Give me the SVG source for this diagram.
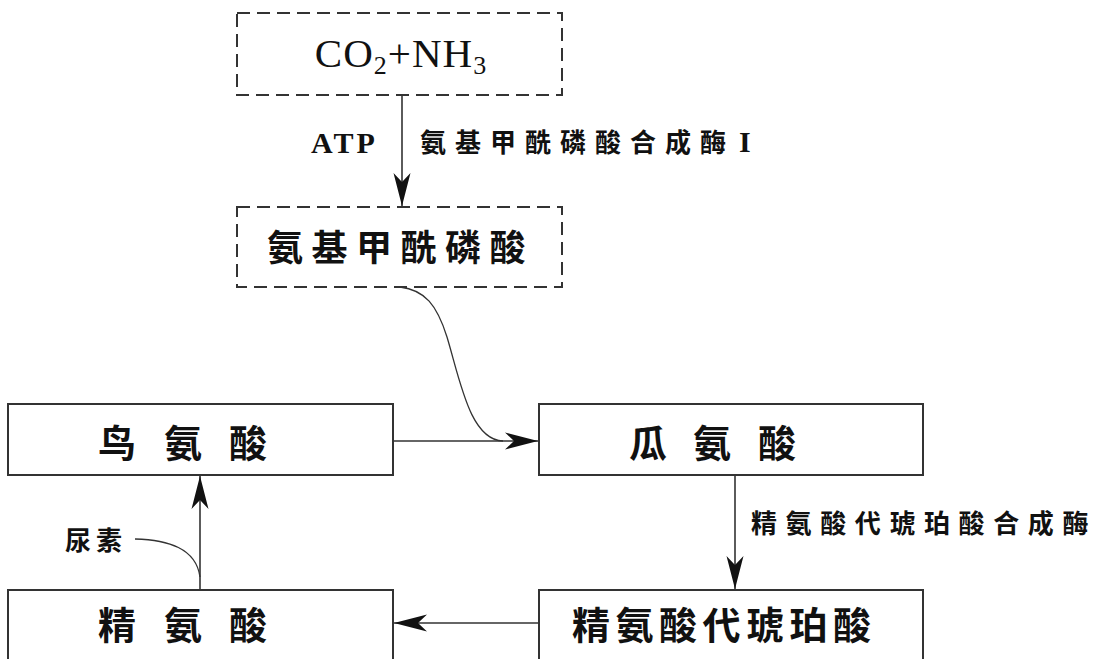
<svg xmlns="http://www.w3.org/2000/svg" width="1098" height="659" viewBox="0 0 1098 659">
<style>
.box{fill:#fff;stroke:#333;stroke-width:2}
.dash{fill:#fff;stroke:#333;stroke-width:2;stroke-dasharray:13 7}
.ln{fill:none;stroke:#333;stroke-width:1.6}
.crv{fill:none;stroke:#333;stroke-width:1.3}
.cjk{font-family:"Noto Sans CJK SC","Noto Sans CJK TC",sans-serif;font-weight:700;fill:#111}
.lat{font-family:"Liberation Serif","Times New Roman",serif;fill:#111}
</style>
<defs>
<marker id="ah" viewBox="-34 -9 36 18" refX="0" refY="0" markerWidth="36" markerHeight="18" markerUnits="userSpaceOnUse" orient="auto">
<path d="M0,0 L-33,-8.5 L-24,0 L-33,8.5 Z" fill="#111"/>
</marker>
</defs>
<rect width="1098" height="659" fill="#fff"/>
<g id="connectors">
<line class="ln" x1="402" y1="96" x2="402" y2="206" marker-end="url(#ah)"/>
<path class="crv" d="M400,287 C425,290 437,305 447,337 C460,380 470,440 503,441"/>
<line class="ln" x1="393" y1="441" x2="538" y2="441" marker-end="url(#ah)"/>
<line class="ln" x1="735" y1="475" x2="735" y2="589" marker-end="url(#ah)"/>
<line class="ln" x1="538" y1="623" x2="394" y2="623" marker-end="url(#ah)"/>
<line class="ln" x1="200" y1="590" x2="200" y2="476" marker-end="url(#ah)"/>
<path class="crv" d="M135,539 C168,540 196,548 200,577"/>
<text class="lat" x="311" y="153" font-size="30" font-weight="700" letter-spacing="3">ATP</text>
<text class="cjk" x="420" y="152" font-size="26" letter-spacing="9">氨基甲酰磷酸合成酶<tspan class="lat" font-size="30" font-weight="700" dx="4">I</tspan></text>
<text class="cjk" x="751" y="533" font-size="26" letter-spacing="8.6">精氨酸代琥珀酸合成酶</text>
<text class="cjk" x="65" y="550" font-size="26" letter-spacing="5">尿素</text>
</g>
<g id="n-co2">
<rect class="dash" x="237" y="13" width="325" height="82"/>
<text class="lat" x="401" y="67" font-size="41" text-anchor="middle" letter-spacing="1">CO<tspan font-size="26" dy="7">2</tspan><tspan dy="-7">+NH</tspan><tspan font-size="26" dy="7">3</tspan></text>
</g>
<g id="n-carbamoyl">
<rect class="dash" x="237" y="207" width="325" height="80"/>
<text class="cjk" x="267" y="261" font-size="36" letter-spacing="8.5">氨基甲酰磷酸</text>
</g>
<g id="n-ornithine">
<rect class="box" x="8" y="404" width="385" height="71"/>
<text class="cjk" font-size="38" text-anchor="middle" y="457"><tspan x="117">鸟</tspan><tspan x="183">氨</tspan><tspan x="248">酸</tspan></text>
</g>
<g id="n-citrulline">
<rect class="box" x="539" y="404" width="384" height="71"/>
<text class="cjk" font-size="38" text-anchor="middle" y="457"><tspan x="648">瓜</tspan><tspan x="712">氨</tspan><tspan x="777">酸</tspan></text>
</g>
<g id="n-arginine">
<rect class="box" x="8" y="590" width="385" height="90"/>
<text class="cjk" font-size="38" text-anchor="middle" y="639"><tspan x="117">精</tspan><tspan x="183">氨</tspan><tspan x="248">酸</tspan></text>
</g>
<g id="n-argininosuccinate">
<rect class="box" x="539" y="590" width="384" height="90"/>
<text class="cjk" x="572" y="639" font-size="38" letter-spacing="5.5">精氨酸代琥珀酸</text>
</g>
</svg>
